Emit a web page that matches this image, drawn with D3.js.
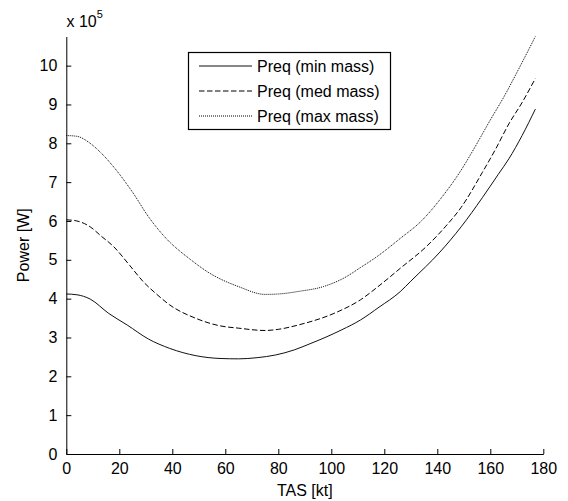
<!DOCTYPE html>
<html lang="en">
<head>
    <meta charset="UTF-8">
    <title>Preq vs TAS</title>
    <script src="https://d3js.org/d3.v7.min.js"></script>
    <style>
        body { margin: 0; background: #fff; }
        text { font-family: "Liberation Sans", Arial, sans-serif; fill: #000; }
    </style>
</head>
<body>
<svg width="568" height="501"></svg>
<script>
    // speeds [kt] and required power [x 1e5 W]
    const tasMax = [0, 4, 9, 13, 18, 25, 31, 37, 47, 54, 65, 75, 80, 88, 97, 105, 111, 118, 126, 134, 141, 149, 154, 160, 165, 171, 177];
    const preqMax = [8.20, 8.18, 8.00, 7.76, 7.38, 6.74, 6.11, 5.60, 5.00, 4.66, 4.31, 4.11, 4.12, 4.19, 4.31, 4.54, 4.80, 5.12, 5.55, 6.00, 6.55, 7.31, 7.88, 8.60, 9.18, 9.95, 10.75];

    const tasMed = [0, 4, 9, 13, 18, 24, 29, 34, 39, 49, 58, 65, 75, 80, 88, 101, 111, 118, 126, 136, 143, 149, 157, 162, 167, 172, 177];
    const preqMed = [6.03, 6.00, 5.85, 5.62, 5.33, 4.85, 4.44, 4.12, 3.84, 3.49, 3.30, 3.24, 3.18, 3.21, 3.33, 3.62, 3.97, 4.33, 4.78, 5.35, 5.85, 6.35, 7.25, 7.85, 8.50, 9.05, 9.67];

    const tasMin = [0, 4, 9, 16, 23, 31, 39, 49, 58, 65, 72, 79, 86, 92, 98, 104, 111, 118, 126, 130, 141, 149, 157, 163, 167, 172, 177];
    const preqMin = [4.12, 4.10, 3.99, 3.62, 3.32, 2.96, 2.72, 2.53, 2.46, 2.45, 2.48, 2.55, 2.68, 2.84, 3.01, 3.20, 3.45, 3.78, 4.18, 4.45, 5.20, 5.85, 6.60, 7.20, 7.60, 8.20, 8.88];

    const seriesNames = ["Preq (min mass)", "Preq (med mass)", "Preq (max mass)"];
    const xTicks = [0, 20, 40, 60, 80, 100, 120, 140, 160, 180];
    const yTicks = [0, 1, 2, 3, 4, 5, 6, 7, 8, 9, 10];

    const svg = d3.select("svg");

    const x = d3.scaleLinear().domain([0, 180]).range([66.3, 543.3]);
    const y = d3.scaleLinear().domain([0, 10.75]).range([454, 36.5]);

    const series = [
        {name: seriesNames[0], tas: tasMin, p: preqMin, dash: null, color: "#111"},
        {name: seriesNames[1], tas: tasMed, p: preqMed, dash: "5.5,2.5", color: "#000"},
        {name: seriesNames[2], tas: tasMax, p: preqMax, dash: "1,1", color: "#000"}
    ];

    const line = d3.line()
        .curve(d3.curveMonotoneX)
        .x(d => x(d[0]))
        .y(d => y(d[1]));

    // curves
    svg.append("g").attr("class", "curves")
        .selectAll("path")
        .data(series)
        .enter()
        .append("path")
        .attr("d", s => line(s.tas.map((t, i) => [t, s.p[i]])))
        .attr("fill", "none")
        .attr("stroke", s => s.color)
        .attr("stroke-width", 1)
        .attr("stroke-dasharray", s => s.dash);

    // x axis (ticks point inward)
    const xAxis = svg.append("g")
        .attr("transform", "translate(0," + y(0) + ")")
        .call(d3.axisBottom(x).tickValues(xTicks).tickSizeInner(-5).tickSizeOuter(0).tickPadding(9));
    xAxis.select(".domain").attr("stroke", "#000");
    xAxis.selectAll("text").attr("font-size", "16px").attr("font-family", "Liberation Sans, Arial, sans-serif");

    // y axis
    const yAxis = svg.append("g")
        .attr("transform", "translate(" + x(0) + ",0)")
        .call(d3.axisLeft(y).tickValues(yTicks).tickSizeInner(-5).tickSizeOuter(0).tickPadding(9));
    yAxis.select(".domain").attr("stroke", "#000");
    yAxis.selectAll("text").attr("font-size", "16px").attr("font-family", "Liberation Sans, Arial, sans-serif");

    // exponent label
    const expo = svg.append("text")
        .attr("x", 66.5)
        .attr("y", 27)
        .attr("font-size", "16px");
    expo.append("tspan").text("x 10");
    expo.append("tspan").attr("dy", -9).attr("font-size", "11px").text("5");

    // axis titles
    svg.append("text")
        .attr("x", (x(0) + x(180)) / 2)
        .attr("y", 496)
        .attr("text-anchor", "middle")
        .attr("font-size", "16px")
        .text("TAS [kt]");

    svg.append("text")
        .attr("transform", "translate(29," + (y(0) + y(10.75)) / 2 + ") rotate(-90)")
        .attr("text-anchor", "middle")
        .attr("font-size", "16px")
        .text("Power [W]");

    // legend
    const legend = svg.append("g").attr("class", "legend");
    legend.append("rect")
        .attr("x", 188.5).attr("y", 52.5)
        .attr("width", 202).attr("height", 77)
        .attr("fill", "#fff")
        .attr("stroke", "#000")
        .attr("stroke-width", 1.2);

    const rows = legend.selectAll("g.row")
        .data(series)
        .enter()
        .append("g")
        .attr("class", "row")
        .attr("transform", (d, i) => "translate(0," + (66 + i * 25) + ")");

    rows.append("line")
        .attr("x1", 199).attr("x2", 252)
        .attr("y1", 0).attr("y2", 0)
        .attr("stroke", d => d.color)
        .attr("stroke-width", 1)
        .attr("stroke-dasharray", d => d.dash);

    rows.append("text")
        .attr("x", 257)
        .attr("y", 6)
        .attr("font-size", "16px")
        .text(d => d.name);
</script>
</body>
</html>
